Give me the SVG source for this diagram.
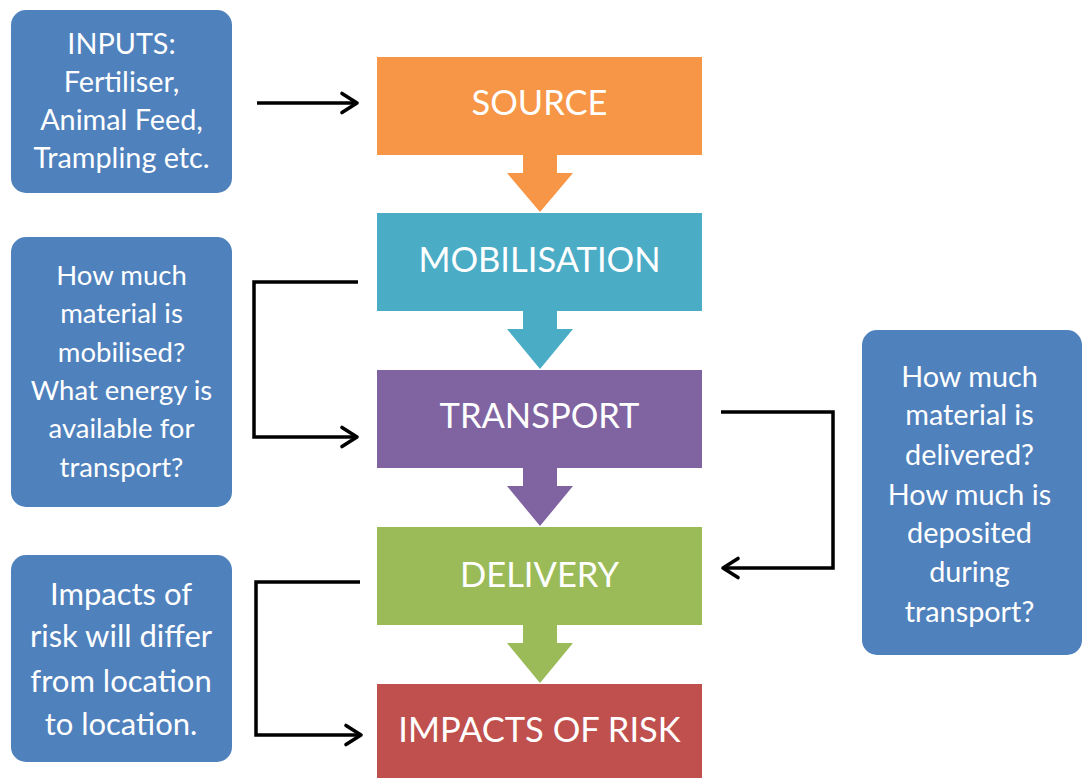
<svg xmlns="http://www.w3.org/2000/svg" width="1082" height="778" viewBox="0 0 1082 778">
<style>
.side{fill:#4F81BD;}
.t{font-family:Lato,"Open Sans","Liberation Sans",sans-serif;fill:#ffffff;text-anchor:middle;}
.s{font-size:27.5px;}
.s1{font-size:28.8px;}
.s4{font-size:31px;}
.m{font-size:34.5px;}
.conn{fill:none;stroke:#000;stroke-width:3.5;}
</style>
<defs>
<marker id="ah" markerUnits="userSpaceOnUse" markerWidth="24" markerHeight="24" viewBox="-20 -12 24 24" refX="0" refY="0" orient="auto">
<path d="M-15,-9.5 L0,0 L-15,9.5" fill="none" stroke="#000" stroke-width="3.6" stroke-linejoin="round" stroke-linecap="round"/>
</marker>
</defs>
<rect width="1082" height="778" fill="#ffffff"/>

<g id="source">
<rect x="377" y="57" width="325" height="98" fill="#F79646"/>
<text class="t m" x="539.5" y="115">SOURCE</text>
</g>
<g id="mobilisation">
<rect x="377" y="213" width="325" height="98" fill="#4BACC6"/>
<text class="t m" x="539.5" y="272">MOBILISATION</text>
</g>
<g id="transport">
<rect x="377" y="370" width="325" height="98" fill="#8064A2"/>
<text class="t m" x="539.5" y="428">TRANSPORT</text>
</g>
<g id="delivery">
<rect x="377" y="527" width="325" height="98" fill="#9BBB59"/>
<text class="t m" x="539.5" y="587">DELIVERY</text>
</g>
<g id="impacts">
<rect x="377" y="684" width="325" height="98" fill="#C0504D"/>
<text class="t m" x="539.5" y="742">IMPACTS OF RISK</text>
</g>

<g id="flow-arrows">
<path d="M523,155 H557 V173 H573 L540,212 L507,173 H523 Z" fill="#F79646"/>
<path d="M523,311 H557 V329 H573 L540,369 L507,329 H523 Z" fill="#4BACC6"/>
<path d="M523,468 H557 V486 H573 L540,526 L507,486 H523 Z" fill="#8064A2"/>
<path d="M523,625 H557 V643 H573 L540,683 L507,643 H523 Z" fill="#9BBB59"/>
</g>

<g id="inputs">
<rect class="side" x="11" y="10" width="221" height="183" rx="15"/>
<text class="t s1" x="121.5" y="54">INPUTS:</text>
<text class="t s1" x="121.5" y="92">Fertiliser,</text>
<text class="t s1" x="121.5" y="130">Animal Feed,</text>
<text class="t s1" x="121.5" y="168">Trampling etc.</text>
</g>
<g id="mobilisation-note">
<rect class="side" x="11" y="237" width="221" height="270" rx="15"/>
<text class="t s" x="121.5" y="285">How much</text>
<text class="t s" x="121.5" y="323">material is</text>
<text class="t s" x="121.5" y="362">mobilised?</text>
<text class="t s" x="121.5" y="400">What energy is</text>
<text class="t s" x="121.5" y="438">available for</text>
<text class="t s" x="121.5" y="477">transport?</text>
</g>
<g id="delivery-note">
<rect class="side" x="862" y="330" width="220" height="325" rx="15"/>
<text class="t s1" x="969.5" y="387">How much</text>
<text class="t s1" x="969.5" y="425">material is</text>
<text class="t s1" x="969.5" y="465">delivered?</text>
<text class="t s1" x="969.5" y="505">How much is</text>
<text class="t s1" x="969.5" y="543">deposited</text>
<text class="t s1" x="969.5" y="582">during</text>
<text class="t s1" x="969.5" y="622">transport?</text>
</g>
<g id="impacts-note">
<rect class="side" x="11" y="555" width="221" height="207" rx="15"/>
<text class="t s4" x="121" y="605">Impacts of</text>
<text class="t s4" x="121" y="647">risk will differ</text>
<text class="t s4" x="121" y="692">from location</text>
<text class="t s4" x="121" y="735">to location.</text>
</g>

<g id="connectors">
<path class="conn" d="M257,103 H357" marker-end="url(#ah)"/>
<path class="conn" d="M358,282 H254 V437 H357" marker-end="url(#ah)"/>
<path class="conn" d="M721,412 H833 V568 H723" marker-end="url(#ah)"/>
<path class="conn" d="M360,582 H256 V735 H361" marker-end="url(#ah)"/>
</g>
</svg>
